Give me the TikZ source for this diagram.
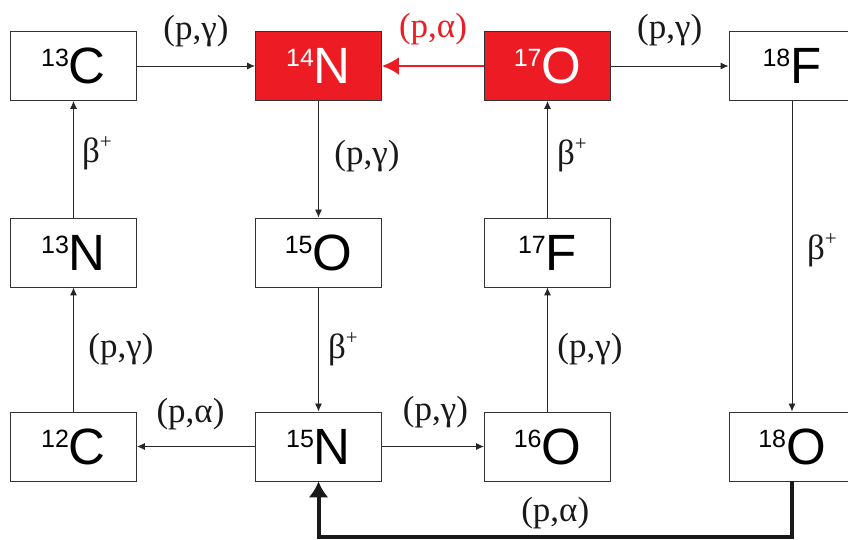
\documentclass[tikz,border=0pt]{standalone}
\usepackage{fontspec}
\setmainfont{Liberation Serif}
\newfontfamily\isofont{Liberation Sans}
\usetikzlibrary{arrows.meta, positioning}

\definecolor{cnored}{HTML}{ED1C24}

% mass number raised in front of the element symbol
\newcommand{\iso}[2]{\raisebox{17pt}{\fontsize{25}{25}\selectfont #1}#2}
% beta plus decay label
\newcommand{\bplus}{β\raisebox{14pt}{\fontsize{21}{21}\selectfont +}}

\tikzset{
    nucleus/.style={draw=black!80, line width=0.9pt, minimum width=126pt, minimum height=69pt,
        inner sep=0pt, font=\isofont\fontsize{51}{51}\selectfont},
    hot/.style={nucleus, fill=cnored, text=white},
    flow/.style={draw=black!85, line width=0.9pt, -{Latex[length=8pt,width=7pt]}},
    redflow/.style={draw=cnored, line width=2.5pt, -{Latex[length=17pt,width=18pt]}},
    loopflow/.style={draw=black!90, line width=4pt, -{Latex[length=16pt,width=20pt]}},
    rate/.style={font=\fontsize{35}{35}\selectfont, text=black!90, inner sep=0pt}
}

\begin{document}
\begin{tikzpicture}[x=1pt, y=1pt]
\useasboundingbox (0,0) rectangle (848,540);

% Top row
\node[nucleus] (c13) at (73.5,474) {\iso{13}{C}};
\node[hot] (n14) at (318.5,474) {\iso{14}{N}};
\node[hot] (o17) at (547.5,474) {\iso{17}{O}};
\node[nucleus] (f18) at (792,474) {\iso{18}{F}};

% Middle row
\node[nucleus] (n13) at (73.5,287.5) {\iso{13}{N}};
\node[nucleus] (o15) at (318.5,287.5) {\iso{15}{O}};
\node[nucleus] (f17) at (547.5,287.5) {\iso{17}{F}};

% Bottom row
\node[nucleus] (c12) at (73.5,93.5) {\iso{12}{C}};
\node[nucleus] (n15) at (318.5,93.5) {\iso{15}{N}};
\node[nucleus] (o16) at (547.5,93.5) {\iso{16}{O}};
\node[nucleus] (o18) at (792,93.5) {\iso{18}{O}};

% Reactions along the top
\draw[flow] (c13) -- node[rate, yshift=35pt] {(p,γ)} (n14);
\draw[redflow] (o17) -- node[rate, text=cnored, yshift=37pt] {(p,α)} (n14);
\draw[flow] (o17) -- node[rate, yshift=36pt] {(p,γ)} (f18);

% Upper columns
\draw[flow] (n13) -- node[rate, xshift=23.5pt, yshift=6pt] {\bplus} (c13);
\draw[flow] (n14) -- node[rate, xshift=48.5pt, yshift=3pt] {(p,γ)} (o15);
\draw[flow] (f17) -- node[rate, xshift=24.5pt, yshift=4pt] {\bplus} (o17);
\draw[flow] (f18) -- node[rate, xshift=30pt, yshift=6pt] {\bplus} (o18);

% Lower columns
\draw[flow] (c12) -- node[rate, xshift=47.5pt] {(p,γ)} (n13);
\draw[flow] (o15) -- node[rate, xshift=24.5pt] {\bplus} (n15);
\draw[flow] (o16) -- node[rate, xshift=42.5pt] {(p,γ)} (f17);

% Reactions along the bottom
\draw[flow] (n15) -- node[rate, xshift=-5.5pt, yshift=32.5pt] {(p,α)} (c12);
\draw[flow] (n15) -- node[rate, xshift=2.5pt, yshift=34.5pt] {(p,γ)} (o16);

% 18O back to 15N
\coordinate (floor) at (0,3);
\draw[loopflow] (o18.south) -- (o18.south |- floor)
    -- node[rate, yshift=24pt] {(p,α)} (n15.south |- floor) -- (n15.south);

\end{tikzpicture}
\end{document}
